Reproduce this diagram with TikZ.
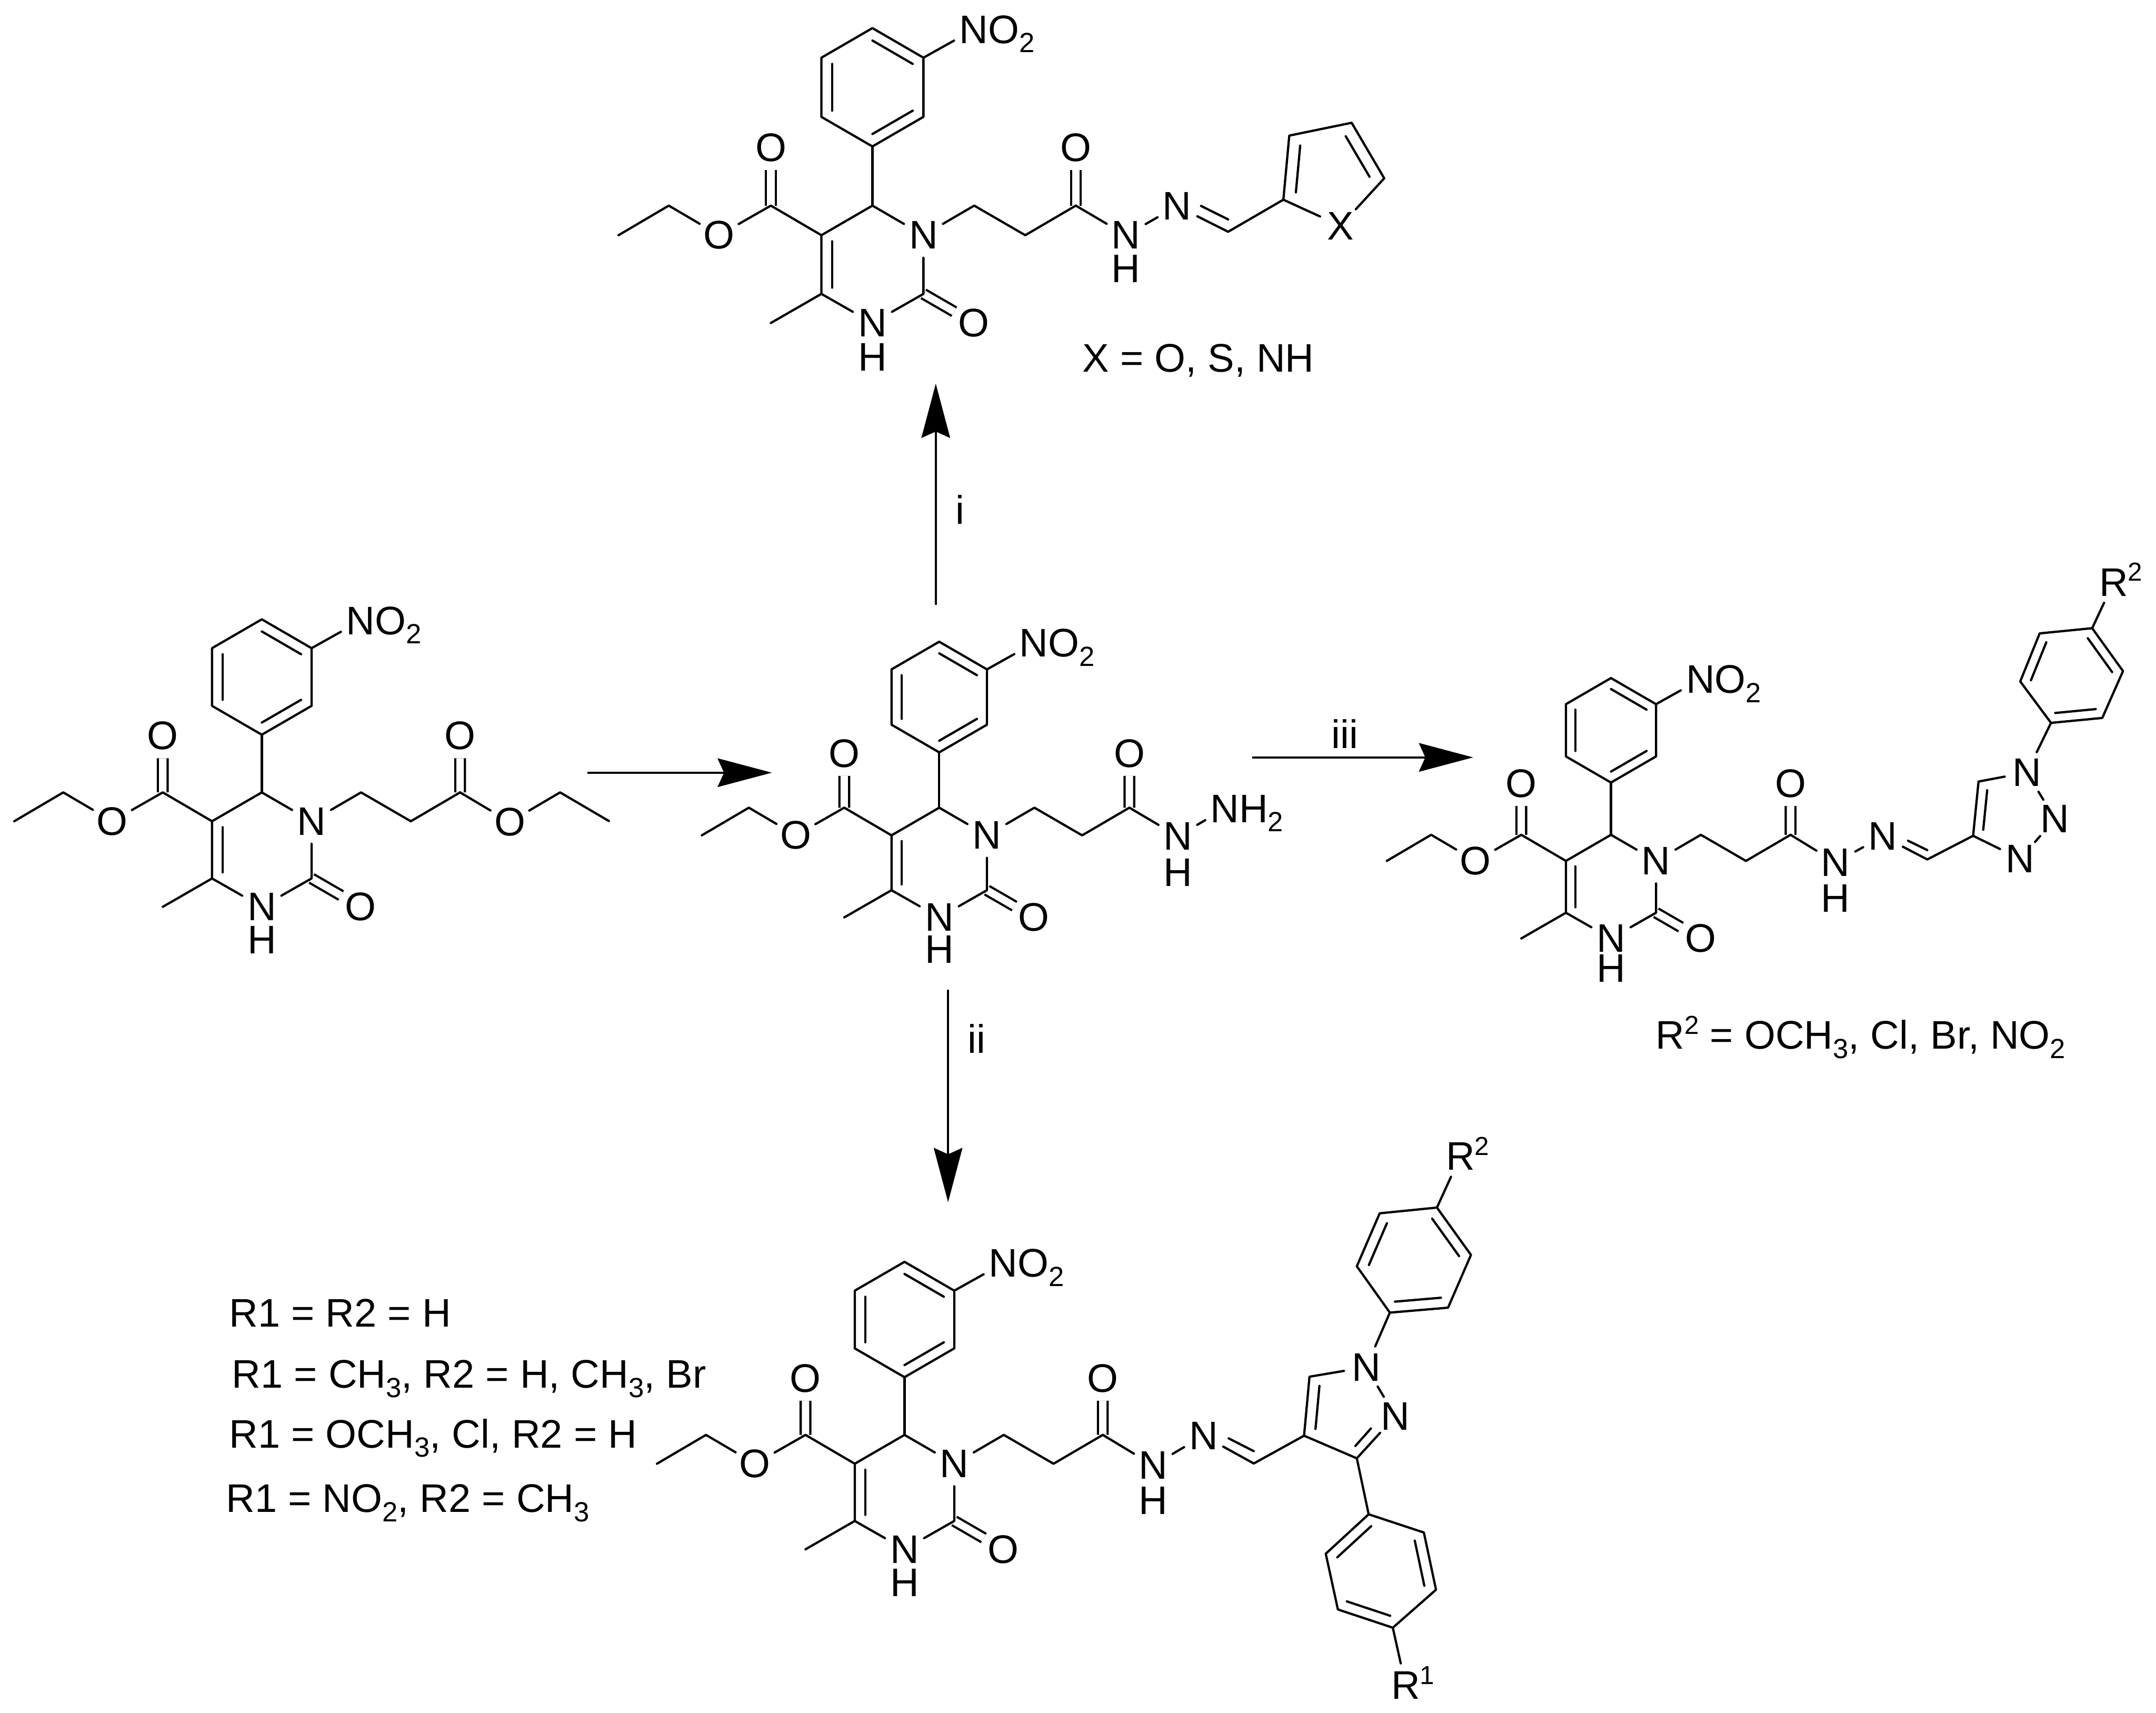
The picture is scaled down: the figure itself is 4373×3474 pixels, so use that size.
\documentclass[tikz,border=0pt]{standalone}
\usepackage{fontspec}
\setmainfont{Liberation Sans}
\usetikzlibrary{arrows.meta,calc}
\newcommand{\lsub}[1]{\smash{\raisebox{-.23em}{\fontsize{16}{16}\selectfont #1}}}
\newcommand{\lsup}[1]{\smash{\raisebox{.375em}{\fontsize{15}{15}\selectfont #1}}}
\newcommand{\innerb}[4][.21]{\draw[bond] ($(#2)!#1!(#4)$) -- ($(#3)!#1!(#4)$);}
\tikzset{
  bond/.style={line width=1.3pt,line cap=round,line join=round},
  dbl/.style={line width=1.3pt,line cap=butt,double,double distance=.15cm},
  atom/.style={circle,inner sep=0pt,minimum size=.9cm,font=\fontsize{23}{27}\selectfont},
  txt/.style={anchor=base west,inner sep=0pt,font=\fontsize{23}{27}\selectfont},
  rxn/.style={line width=1.1pt,-{Stealth[length=1.1cm,width=.58cm,inset=.13cm]}},
  pics/core/.style={code={
    \coordinate (-c4) at (0,0);
    \coordinate (-c5) at (-103.5,60);
    \coordinate (-c6) at (-103.5,179);
    \coordinate (-c2) at (103.5,179);
    \coordinate (-ctr) at (0,119);
    \node[atom] (-n1) at (103.5,60) {N};
    \node[atom] (-n3) at (0,238) {N};
    \node[atom] (-h3) at ([yshift=-.69cm]-n3.center) {H};
    \node[atom] (-o2) at (205.5,238) {O};
    %
    \coordinate (-a1) at (0,-120);
    \coordinate (-a2) at (103.5,-180);
    \coordinate (-a3) at (103.5,-300);
    \coordinate (-a4) at (0,-360);
    \coordinate (-a5) at (-103.5,-300);
    \coordinate (-a6) at (-103.5,-180);
    \coordinate (-ac) at (0,-240);
    \node[atom] (-no) at (205.5,-357) {N\rlap{O\lsub{2}}};
    %
    \coordinate (-c7) at (-206,0);
    \node[atom] (-o7) at (-206,-118) {O};
    \node[atom] (-o8) at (-311,60) {O};
    \coordinate (-c8) at (-413,0);
    \coordinate (-c9) at (-515,60);
    \coordinate (-me) at (-206,238);
    %
    \coordinate (-c10) at (206.5,0);
    \coordinate (-c11) at (310,60);
    \coordinate (-co) at (412.5,0);
    \node[atom] (-o) at (412.5,-118) {O};
    %
    \draw[dbl] (-c7) -- (-o7);
    \draw[dbl] (-c2) -- (-o2);
    \draw[dbl] (-co) -- (-o);
    \draw[bond] (-a1) -- (-a2) -- (-a3) -- (-a4) -- (-a5) -- (-a6) -- cycle;
    \innerb{-a4}{-a3}{-ac}
    \innerb{-a5}{-a6}{-ac}
    \innerb{-a2}{-a1}{-ac}
    \draw[bond] (-a3) -- (-no);
    \draw[bond] (-a1) -- (-c4);
    \draw[bond] (-c4) -- (-n1);
    \draw[bond] (-n1) -- (-c2) -- (-n3) -- (-c6) -- (-c5) -- (-c4);
    \innerb{-c5}{-c6}{-ctr}
    \draw[bond] (-c6) -- (-me);
    \draw[bond] (-c5) -- (-c7) -- (-o8) -- (-c8) -- (-c9);
    \draw[bond] (-n1) -- (-c10) -- (-c11) -- (-co);
  }}
}
\begin{document}
\begin{tikzpicture}[x=0.01cm,y=-0.01cm]
\useasboundingbox (0,0) rectangle (4373,3474);
\pic (mt) at (1769.5,417) {core};
\pic[scale=.975] (ml) at (531,1607) {core};
\pic[scale=.935] (mm) at (1905,1638) {core};
\pic[scale=.883] (mr) at (3267.5,1693) {core};
\pic[scale=.975] (mb) at (1834.6,2910) {core};
%
% top product
\node[atom] (tn) at (2284,477) {N};
\node[atom] (th) at ([yshift=-.68cm]tn.center) {H};
\node[atom] (tm) at (2387.5,418) {N};
\coordinate (tc) at (2491,470);
\coordinate (tr1) at (2603,405);
\coordinate (tr2) at (2615,275);
\coordinate (tr3) at (2741.5,249);
\coordinate (tr4) at (2807.6,361.6);
\coordinate (trc) at (2697,350);
\node[atom] (tx) at (2719,458) {X};
\coordinate (td1) at (2436,417.6);
\coordinate (td2) at (2491,445);
\draw[bond] (mt-co) -- (tn);
\draw[bond] (tn) -- (tm);
\draw[bond] (tm) -- (tc) -- (tr1) -- (tr2) -- (tr3) -- (tr4) -- (tx) -- (tr1);
\draw[bond] (td1) -- (td2);
\innerb[.27]{tr1}{tr2}{trc}
\innerb[.27]{tr3}{tr4}{trc}
\node[txt] (tl) at (2195,754) {X = O, S, NH};
%
% left ester
\node[atom] (lo) at (1034,1667) {O};
\coordinate (lc1) at (1136,1607);
\coordinate (lc2) at (1235,1665);
\draw[bond] (ml-co) -- (lo) -- (lc1) -- (lc2);
%
% hydrazide
\node[atom] (mn) at (2389,1696) {N};
\node[atom] (mh) at ([yshift=-.73cm]mn.center) {H};
\node[atom] (mq) at (2484,1640) {N\rlap{H\lsub{2}}};
\draw[bond] (mm-co) -- (mn);
\draw[bond] (mn) -- (mq);
%
% triazole product
\node[atom] (rn) at (3723,1749) {N};
\node[atom] (rh) at ([yshift=-.73cm]rn.center) {H};
\node[atom] (rm) at (3819,1696) {N};
\coordinate (rc) at (3909,1743);
\coordinate (rd1) at (3870,1705);
\coordinate (rd2) at (3909,1724);
\coordinate (rt1) at (4002,1695);
\coordinate (rt2) at (4013,1585);
\coordinate (rtc) at (4078,1650);
\node[atom] (rt3) at (4111,1566.5) {N};
\node[atom] (rt4) at (4168,1661) {N};
\node[atom] (rt5) at (4097.6,1742) {N};
\coordinate (rp1) at (4160,1466);
\coordinate (rp2) at (4264,1456);
\coordinate (rp3) at (4306,1361);
\coordinate (rp4) at (4243.5,1274);
\coordinate (rp5) at (4137,1284.5);
\coordinate (rp6) at (4097.6,1382);
\coordinate (rpc) at (4201,1370.5);
\node[atom] (rr) at (4287,1181) {R\rlap{\lsup{2}}};
\draw[bond] (mr-co) -- (rn);
\draw[bond] (rn) -- (rm);
\draw[bond] (rm) -- (rc) -- (rt1) -- (rt2) -- (rt3) -- (rt4) -- (rt5) -- (rt1);
\draw[bond] (rd1) -- (rd2);
\innerb[.27]{rt1}{rt2}{rtc}
\draw[bond] (rt3) -- (rp1) -- (rp2) -- (rp3) -- (rp4) -- (rp5) -- (rp6) -- (rp1);
\draw[bond] (rp4) -- (rr);
\innerb{rp1}{rp2}{rpc}
\innerb{rp3}{rp4}{rpc}
\innerb{rp5}{rp6}{rpc}
\node[txt] (rl) at (3357.6,2127.6) {R\lsup{2} = OCH\lsub{3}, Cl, Br, NO\lsub{2}};
%
% pyrazole product
\node[atom] (bn) at (2339,2971.7) {N};
\node[atom] (bh) at ([yshift=-.71cm]bn.center) {H};
\node[atom] (bm) at (2441,2911.6) {N};
\coordinate (bc) at (2543,2968);
\coordinate (bd1) at (2492,2917);
\coordinate (bd2) at (2543,2943);
\coordinate (bz1) at (2645,2911.6);
\coordinate (bz2) at (2656,2792);
\coordinate (bzc) at (2730.8,2861);
\node[atom] (bz3) at (2771,2772.6) {N};
\node[atom] (bz4) at (2830,2872) {N};
\coordinate (bz5) at (2752,2957.5);
\coordinate (be1) at (2749,2932.5);
\coordinate (be2) at (2780.6,2897);
\coordinate (bp1) at (2819,2662);
\coordinate (bp2) at (2937,2652);
\coordinate (bp3) at (2983.5,2545);
\coordinate (bp4) at (2914.5,2449);
\coordinate (bp5) at (2798.4,2460.6);
\coordinate (bp6) at (2752,2568);
\coordinate (bpc) at (2868.3,2556);
\node[atom] (br2) at (2962,2345) {R\rlap{\lsup{2}}};
\coordinate (bq1) at (2776,3071);
\coordinate (bq2) at (2888,3108);
\coordinate (bq3) at (2912.6,3224);
\coordinate (bq4) at (2825,3301);
\coordinate (bq5) at (2713.6,3264);
\coordinate (bq6) at (2689,3151);
\coordinate (bqc) at (2800,3186);
\node[atom] (br1) at (2851,3418) {R\rlap{\lsup{1}}};
\draw[bond] (mb-co) -- (bn);
\draw[bond] (bn) -- (bm);
\draw[bond] (bm) -- (bc) -- (bz1) -- (bz2) -- (bz3) -- (bz4) -- (bz5) -- (bz1);
\draw[bond] (bd1) -- (bd2);
\draw[bond] (be1) -- (be2);
\innerb[.27]{bz1}{bz2}{bzc}
\draw[bond] (bz3) -- (bp1) -- (bp2) -- (bp3) -- (bp4) -- (bp5) -- (bp6) -- (bp1);
\draw[bond] (bp4) -- (br2);
\innerb{bp1}{bp2}{bpc}
\innerb{bp3}{bp4}{bpc}
\innerb{bp5}{bp6}{bpc}
\draw[bond] (bz5) -- (bq1) -- (bq2) -- (bq3) -- (bq4) -- (bq5) -- (bq6) -- (bq1);
\draw[bond] (bq4) -- (br1);
\innerb{bq1}{bq6}{bqc}
\innerb{bq2}{bq3}{bqc}
\innerb{bq4}{bq5}{bqc}
%
\node[txt] (la1) at (464.5,2691) {R1 = R2 = H};
\node[txt] (la2) at (470,2815) {R1 = CH\lsub{3}, R2 = H, CH\lsub{3}, Br};
\node[txt] (la3) at (464.5,2936.5) {R1 = OCH\lsub{3}, Cl, R2 = H};
\node[txt] (la4) at (458,3067) {R1 = NO\lsub{2}, R2 = CH\lsub{3}};
%
% arrows
\coordinate (a0s) at (1191,1567);
\coordinate (a0e) at (1565.6,1567);
\coordinate (a1s) at (1898,1227);
\coordinate (a1e) at (1898,778);
\coordinate (a2s) at (1923,2007);
\coordinate (a2e) at (1923,2438);
\coordinate (a3s) at (2540,1536);
\coordinate (a3e) at (2988,1536);
\draw[rxn] (a0s) -- (a0e);
\draw[rxn] (a1s) -- (a1e);
\draw[rxn] (a2s) -- (a2e);
\draw[rxn] (a3s) -- (a3e);
\node[txt,anchor=base] (ai) at (1947,1063) {i};
\node[txt,anchor=base] (aii) at (1981,2136) {ii};
\node[txt,anchor=base] (aiii) at (2728,1518) {iii};
\end{tikzpicture}
\end{document}
